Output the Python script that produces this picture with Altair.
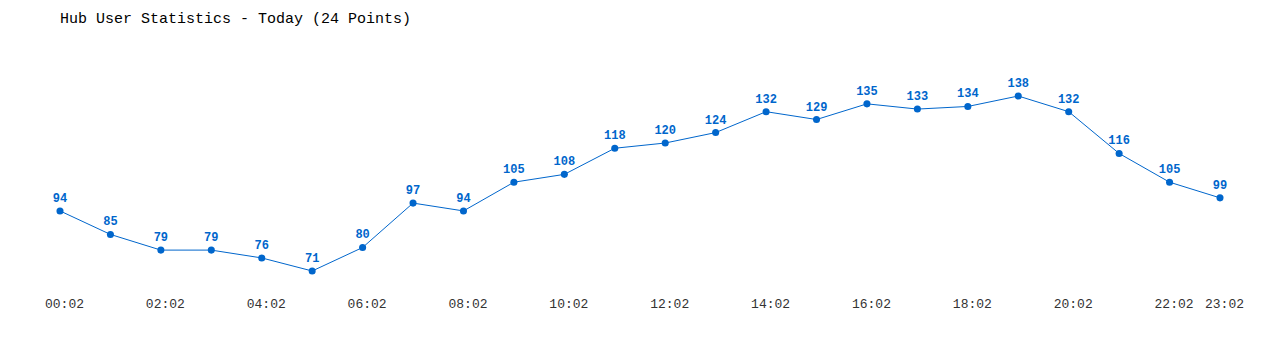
import altair as alt
import pandas as pd

times = ["00:02", "01:02", "02:02", "03:02", "04:02", "05:02", "06:02", "07:02",
         "08:02", "09:02", "10:02", "11:02", "12:02", "13:02", "14:02", "15:02",
         "16:02", "17:02", "18:02", "19:02", "20:02", "21:02", "22:02", "23:02"]
users = [94, 85, 79, 79, 76, 71, 80, 97, 94, 105, 108, 118, 120, 124, 132, 129,
         135, 133, 134, 138, 132, 116, 105, 99]
tick_labels = ["00:02", "02:02", "04:02", "06:02", "08:02", "10:02", "12:02",
               "14:02", "16:02", "18:02", "20:02", "22:02", "23:02"]

df = pd.DataFrame({"time": times, "users": users})
BLUE = "#0066CC"
MONO = "Liberation Mono"

x = alt.X("time:O", sort=times,
          scale=alt.Scale(type="point", padding=0),
          axis=alt.Axis(title=None, values=tick_labels, labelAngle=0, ticks=False,
                        domain=False, grid=False, labelPadding=3, labelOffset=4,
                        labelFont=MONO, labelFontSize=13, labelColor="#333333"))
y = alt.Y("users:Q", scale=alt.Scale(domain=[62, 165], nice=False, zero=False),
          axis=None)

base = alt.Chart(df).encode(x=x, y=y)
line = base.mark_line(color=BLUE, strokeWidth=1)
pts = base.mark_circle(color=BLUE, size=50, opacity=1)
txt = base.mark_text(color=BLUE, dy=-13, font=MONO, fontWeight="bold",
                     fontSize=12).encode(text="users:Q")

chart = (line + pts + txt).properties(
    width=1160, height=269,
    background="white",
    view=alt.ViewBackground(strokeWidth=0, stroke="transparent"),
    title=alt.TitleParams("Hub User Statistics - Today (24 Points)", anchor="start",
                          frame="group", font=MONO, fontSize=15, fontWeight="normal",
                          color="#000000", offset=0),
    autosize=alt.AutoSizeParams(type="none"),
    padding={"left": 60, "top": 25.5, "right": 60, "bottom": 55.5},
).configure_view(strokeWidth=0)

chart.save("out.html", embed_options={"renderer": "svg", "actions": False})
